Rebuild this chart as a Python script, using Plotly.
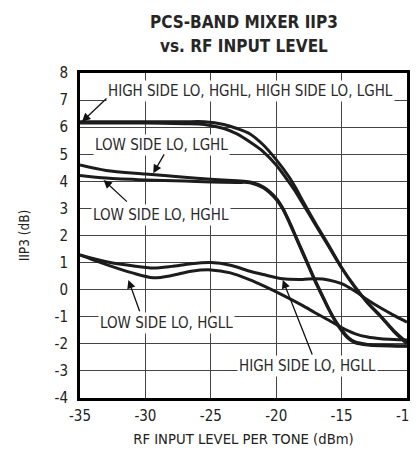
import plotly.graph_objects as go

# Data
x_hs = [-35, -30, -27, -25.5, -24, -23, -22, -21, -20, -19, -18.5, -18, -17, -16, -15, -14, -13, -12, -11, -10]
y_hs_hghl = [6.15, 6.15, 6.13, 6.1, 5.95, 5.75, 5.45, 5.1, 4.6, 3.95, 3.6, 3.2, 2.4, 1.6, 0.8, 0.1, -0.5, -1.0, -1.55, -2.0]
y_hs_lghl = [6.2, 6.2, 6.2, 6.2, 6.1, 5.95, 5.75, 5.35, 4.8, 4.15, 3.75, 3.3, 2.45, 1.65, 0.82, 0.12, -0.48, -0.98, -1.52, -1.95]

x_ls = [-35, -33, -30, -27, -25, -23, -22, -21, -20, -19.5, -19, -18.5, -18, -17.5, -17, -16.5, -16, -15.5, -15, -14.5, -14, -13, -12, -10]
y_ls_lghl = [4.6, 4.4, 4.27, 4.15, 4.08, 4.02, 3.98, 3.8, 3.38, 3.02, 2.52, 1.97, 1.42, 0.87, 0.32, -0.18, -0.68, -1.12, -1.48, -1.76, -1.92, -2.02, -2.05, -2.07]
y_ls_hghl = [4.22, 4.12, 4.05, 4.01, 3.98, 3.96, 3.95, 3.76, 3.33, 2.98, 2.48, 1.93, 1.38, 0.83, 0.28, -0.22, -0.72, -1.16, -1.52, -1.8, -1.95, -2.04, -2.07, -2.09]

x_hgll = [-35, -34, -32.7, -31, -29.4, -28, -26.5, -25, -23.5, -22, -21, -19.5, -18, -17, -16, -15, -14, -13, -12, -11, -10]
y_hs_hgll = [1.28, 1.15, 1.0, 0.88, 0.8, 0.86, 0.96, 1.0, 0.9, 0.68, 0.56, 0.4, 0.38, 0.4, 0.36, 0.22, -0.05, -0.38, -0.68, -0.95, -1.2]
y_ls_hgll = [1.28, 1.1, 0.88, 0.62, 0.44, 0.52, 0.68, 0.73, 0.62, 0.36, 0.15, -0.2, -0.58, -0.86, -1.12, -1.4, -1.62, -1.75, -1.81, -1.84, -1.86]

x_ticks = [-35, -30, -25, -20, -15, -10]
y_ticks = [-4, -3, -2, -1, 0, 1, 2, 3, 4, 5, 6, 7, 8]

title_line1 = "PCS-BAND MIXER IIP3"
title_line2 = "vs. RF INPUT LEVEL"
x_title = "RF INPUT LEVEL PER TONE (dBm)"
y_title = "IIP3 (dB)"
side_note = "MAX2320 toc41"

FONT = "DejaVu Sans Condensed, Liberation Sans Narrow, sans-serif"
LINE = "#1c1c1c"

fig = go.Figure()
series = [
    (x_hs, y_hs_hghl, "HIGH SIDE LO, HGHL"),
    (x_hs, y_hs_lghl, "HIGH SIDE LO, LGHL"),
    (x_ls, y_ls_lghl, "LOW SIDE LO, LGHL"),
    (x_ls, y_ls_hghl, "LOW SIDE LO, HGHL"),
    (x_hgll, y_hs_hgll, "HIGH SIDE LO, HGLL"),
    (x_hgll, y_ls_hgll, "LOW SIDE LO, HGLL"),
]
for xs, ys, name in series:
    fig.add_trace(go.Scatter(x=xs, y=ys, mode="lines", name=name,
                             line=dict(color=LINE, width=3, shape="spline", smoothing=0.8),
                             showlegend=False))

# text labels (white boxes hiding the grid)
labels = [
    ("HIGH SIDE LO, HGHL, HIGH SIDE LO, LGHL", -22.0, 7.34),
    ("LOW SIDE LO, LGHL", -28.8, 5.34),
    ("LOW SIDE LO, HGHL", -28.8, 2.76),
    ("LOW SIDE LO, HGLL", -28.35, -1.22),
    ("HIGH SIDE LO, HGLL", -17.63, -2.81),
]
for txt, lx, ly in labels:
    fig.add_annotation(x=lx, y=ly, xref="x", yref="y", text=txt, showarrow=False,
                       font=dict(family=FONT, size=15, color="#2a2a2a"),
                       bgcolor="white", borderpad=1)

# arrows: (tail x, tail y, tip x, tip y)
arrows = [
    (-32.86, 7.11, -34.85, 6.2),
    (-28.5, 5.05, -29.4, 4.3),
    (-31.3, 3.2, -33.2, 4.05),
    (-30.4, -0.85, -31.3, 0.36),
    (-17.2, -2.45, -19.5, 0.36),
]
for tx, ty, hx, hy in arrows:
    fig.add_annotation(x=hx, y=hy, ax=tx, ay=ty, xref="x", yref="y", axref="x", ayref="y",
                       text="", showarrow=True, arrowhead=2, arrowsize=1.3, arrowwidth=1.3,
                       arrowcolor="#111")

# title
fig.add_annotation(x=0.5015, y=1.157, xref="paper", yref="paper", xanchor="center", yanchor="middle",
                   text="<b>" + title_line1 + "</b>", showarrow=False,
                   font=dict(family=FONT, size=17, color="#262626"))
fig.add_annotation(x=0.5015, y=1.083, xref="paper", yref="paper", xanchor="center", yanchor="middle",
                   text="<b>" + title_line2 + "</b>", showarrow=False,
                   font=dict(family=FONT, size=17, color="#262626"))

fig.add_annotation(x=1.0, y=0.917, xref="paper", yref="paper", xanchor="left", yanchor="middle",
                   xshift=0, text=side_note, textangle=-90, showarrow=False,
                   font=dict(family=FONT, size=9, color="#333"))

fig.update_layout(
    width=418, height=457,
    margin=dict(l=72, r=19, t=65, b=67, autoexpand=False),
    paper_bgcolor="white", plot_bgcolor="white",
    font=dict(family=FONT, size=15, color="#222"),
    xaxis=dict(range=[-35, -10], tickvals=x_ticks, ticktext=[str(v) for v in x_ticks],
               showgrid=True, gridcolor="#444", gridwidth=1.2, zeroline=False,
               showline=True, linecolor="black", linewidth=3, mirror=True, ticks="",
               automargin=False, ticklabelstandoff=2,
               title=dict(text=x_title, font=dict(family=FONT, size=14.7), standoff=10),
               tickfont=dict(family=FONT, size=15)),
    yaxis=dict(range=[-4, 8], tickvals=y_ticks, ticktext=[str(v) for v in y_ticks],
               showgrid=True, gridcolor="#444", gridwidth=1.2, zeroline=False,
               showline=True, linecolor="black", linewidth=3, mirror=True, ticks="",
               automargin=False, ticklabelstandoff=6,
               title=dict(text=y_title, font=dict(family=FONT, size=13.5), standoff=22),
               tickfont=dict(family=FONT, size=15)),
)

fig.write_html("out.html")
